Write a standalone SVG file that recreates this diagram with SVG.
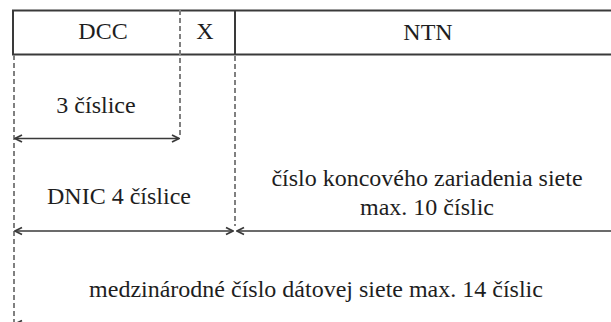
<svg xmlns="http://www.w3.org/2000/svg" width="611" height="322" viewBox="0 0 611 322">
  <style>
    .solid { stroke: #3a3a3a; stroke-width: 2; fill: none; }
    .dash { stroke: #808080; stroke-width: 2; fill: none; stroke-dasharray: 5 3; }
    .arr { stroke: #3a3a3a; stroke-width: 1.6; fill: none; }
    .t { fill: #1e1e1e; text-anchor: middle; }
  </style>
  <defs>
    <marker id="ah" viewBox="0 0 10 10" refX="9" refY="5" markerWidth="10" markerHeight="10" markerUnits="userSpaceOnUse" orient="auto-start-reverse">
      <path d="M2,1.5 L9,5 L2,8.5" fill="none" stroke="#3a3a3a" stroke-width="1.8"/>
    </marker>
  </defs>
  <rect width="611" height="322" fill="#ffffff"/>
  <g id="header">
    <line class="solid" x1="12" y1="10.5" x2="611" y2="10.5"/>
    <line class="solid" x1="12" y1="54.5" x2="611" y2="54.5"/>
    <line class="solid" x1="13" y1="10" x2="13" y2="55"/>
    <line class="solid" x1="235" y1="10" x2="235" y2="55"/>
  </g>
  <g id="dcc"><text class="t" x="103" y="39" font-family="Liberation Serif, DejaVu Serif, serif" font-size="24">DCC</text></g>
  <g id="x"><text class="t" x="205" y="39" font-family="Liberation Serif, DejaVu Serif, serif" font-size="24">X</text></g>
  <g id="ntn"><text class="t" x="428" y="40" font-family="Liberation Serif, DejaVu Serif, serif" font-size="24">NTN</text></g>
  <g id="label-3cislice"><text class="t" x="96" y="113" font-family="Liberation Serif, DejaVu Serif, serif" font-size="24">3 číslice</text></g>
  <g id="label-dnic"><text class="t" x="119" y="204" font-family="Liberation Serif, DejaVu Serif, serif" font-size="24">DNIC 4 číslice</text></g>
  <g id="label-ntn">
    <text class="t" x="427" y="186" font-family="Liberation Serif, DejaVu Serif, serif" font-size="24">číslo koncového zariadenia siete</text>
    <text class="t" x="427" y="215" font-family="Liberation Serif, DejaVu Serif, serif" font-size="24">max. 10 číslic</text>
  </g>
  <g id="label-total"><text class="t" x="316" y="297" font-family="Liberation Serif, DejaVu Serif, serif" font-size="24">medzinárodné číslo dátovej siete max. 14 číslic</text></g>
  <g id="connectors">
    <line class="dash" x1="180" y1="10" x2="180" y2="138"/>
    <line class="dash" x1="14" y1="55" x2="14" y2="322"/>
    <line class="dash" x1="235" y1="56" x2="235" y2="226"/>
    <line class="arr" x1="15" y1="138.5" x2="179" y2="138.5" marker-start="url(#ah)" marker-end="url(#ah)"/>
    <line class="arr" x1="15" y1="231" x2="233" y2="231" marker-start="url(#ah)" marker-end="url(#ah)"/>
    <line class="arr" x1="237" y1="231" x2="611" y2="231" marker-start="url(#ah)"/>
    <line class="arr" x1="15" y1="324" x2="611" y2="324" marker-start="url(#ah)"/>
  </g>
</svg>
